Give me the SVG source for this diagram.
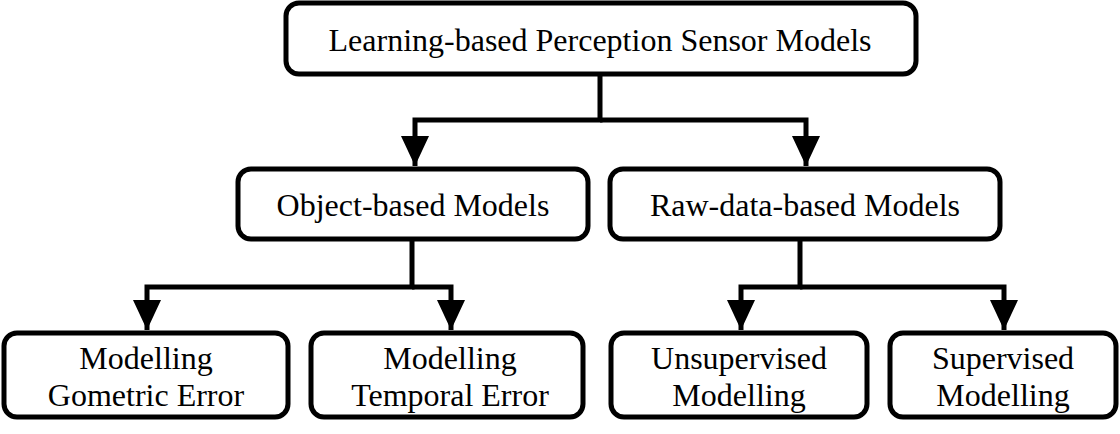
<svg xmlns="http://www.w3.org/2000/svg" width="1120" height="434" viewBox="0 0 1120 434">
<style>
.box{fill:#fff;stroke:#000;stroke-width:5}
.t{font-family:"Liberation Serif","Times New Roman",serif;font-size:32px;fill:#000;text-anchor:middle}
.c{fill:none;stroke:#000;stroke-width:5}
</style>
<defs>
<marker id="ah" markerUnits="userSpaceOnUse" markerWidth="32" markerHeight="28" refX="30" refY="14" orient="auto" viewBox="0 0 32 28">
<path d="M0,0 L30,14 L0,28 Z" fill="#000"/>
</marker>
</defs>
<rect width="1120" height="434" fill="#fff"/>
<g id="connectors">
<path class="c" d="M600,74 V120 H415 V166" marker-end="url(#ah)"/>
<path class="c" d="M600,120 H806 V166" marker-end="url(#ah)"/>
<path class="c" d="M412,240 V287 H147 V330" marker-end="url(#ah)"/>
<path class="c" d="M412,287 H451 V330" marker-end="url(#ah)"/>
<path class="c" d="M800,240 V287 H741 V330" marker-end="url(#ah)"/>
<path class="c" d="M800,287 H1004 V330" marker-end="url(#ah)"/>
</g>
<g id="n-root"><rect class="box" x="286" y="3" width="630" height="71" rx="13"/><text class="t" x="600" y="51">Learning-based Perception Sensor Models</text></g>
<g id="n-object"><rect class="box" x="238" y="169" width="350" height="70" rx="13"/><text class="t" x="413" y="216">Object-based Models</text></g>
<g id="n-raw"><rect class="box" x="610" y="169" width="390" height="70" rx="13"/><text class="t" x="805" y="216">Raw-data-based Models</text></g>
<g id="n-geo"><rect class="box" x="4" y="333" width="284" height="84" rx="13"/><text class="t" x="146" y="369">Modelling</text><text class="t" x="146" y="406">Gometric Error</text></g>
<g id="n-temp"><rect class="box" x="311" y="333" width="272" height="84" rx="13"/><text class="t" x="450" y="369">Modelling</text><text class="t" x="450" y="406">Temporal Error</text></g>
<g id="n-unsup"><rect class="box" x="611" y="333" width="256" height="84" rx="13"/><text class="t" x="739" y="369">Unsupervised</text><text class="t" x="739" y="406">Modelling</text></g>
<g id="n-sup"><rect class="box" x="890" y="333" width="226" height="84" rx="13"/><text class="t" x="1003" y="369">Supervised</text><text class="t" x="1003" y="406">Modelling</text></g>
</svg>
